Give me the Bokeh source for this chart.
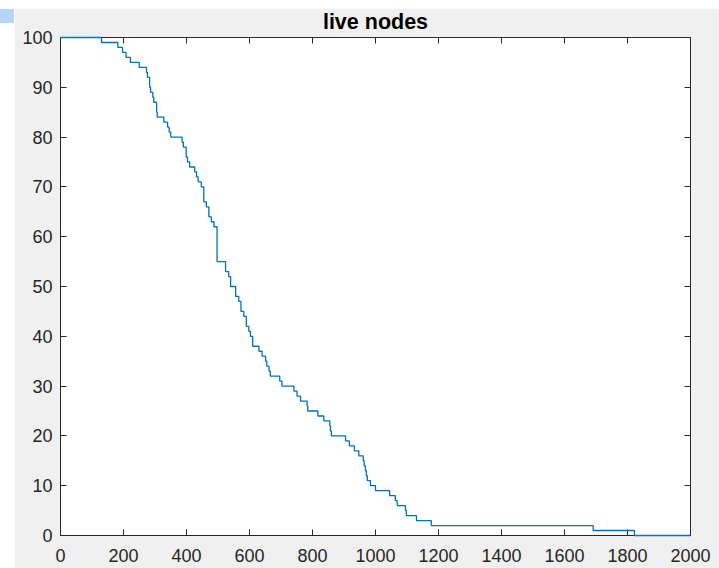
from bokeh.plotting import figure
from bokeh.models import Range1d, LinearAxis, FixedTicker, Spacer
from bokeh.layouts import row, column
from bokeh.embed import file_html
from bokeh.resources import INLINE

# step times and number of live nodes (level holds from each time to the next)
step_times = [0, 130, 182, 197, 208, 222, 250, 273, 276, 283, 286, 293, 296, 305, 307,
              328, 340, 345, 350, 386, 390, 399, 403, 410, 426, 432, 437, 447, 455, 463,
              471, 479, 487, 497, 524, 534, 540, 556, 566, 573, 582, 590, 598, 603, 610,
              630, 640, 651, 655, 662, 666, 696, 703, 741, 751, 762, 783, 785, 817, 836,
              855, 857, 860, 905, 917, 933, 947, 961, 964, 968, 971, 974, 984, 1000, 1045,
              1063, 1069, 1095, 1098, 1130, 1177, 1691, 1822, 2000]
live_nodes = [100, 99, 98, 97, 96, 95, 94, 93, 92, 90, 89, 88, 87, 85, 84,
              83, 82, 81, 80, 79, 78, 76, 75, 74, 73, 72, 71, 70, 67, 66,
              64, 63, 62, 55, 53, 52, 50, 48, 47, 45, 44, 42, 41, 40, 38,
              37, 36, 35, 34, 33, 32, 31, 30, 29, 28, 27, 26, 25, 24, 23,
              22, 21, 20, 19, 18, 17, 16, 15, 14, 13, 12, 11, 10, 9, 8,
              7, 6, 5, 4, 3, 2, 1, 0, 0]

x_ticks = [0, 200, 400, 600, 800, 1000, 1200, 1400, 1600, 1800, 2000]
y_ticks = [0, 10, 20, 30, 40, 50, 60, 70, 80, 90, 100]
title_text = "live nodes"

AX = "#262626"
FONT = "Liberation Sans"
TICK_FS = "18px"

p = figure(width=705, height=560, output_backend="svg", toolbar_location=None,
           x_range=Range1d(0, 2000), y_range=Range1d(0, 100),
           min_border_left=46, min_border_right=29, min_border_top=29, min_border_bottom=33,
           background_fill_color="white", border_fill_color="#f0f0f0",
           outline_line_color=AX, outline_line_width=1)

p.title.text = title_text
p.title.align = "center"
p.title.vertical_align = "top"
p.title.text_font = FONT
p.title.text_font_size = "21.5px"
p.title.text_font_style = "bold"
p.title.text_color = "#000000"
p.title.standoff = 3

p.grid.visible = False


def style_axis(ax, ticks, show_labels=True, standoff=9):
    ax.ticker = FixedTicker(ticks=ticks)
    ax.major_tick_in = 6
    ax.major_tick_out = 0
    ax.minor_tick_line_color = None
    ax.axis_line_color = AX
    ax.major_tick_line_color = AX
    ax.major_label_text_font = FONT
    if show_labels:
        ax.major_label_text_color = AX
        ax.major_label_text_font_size = TICK_FS
        ax.major_label_standoff = standoff
    else:
        # box-style ticks only: no labels on the top and right edges
        ax.major_label_overrides = {t: "" for t in ticks}
        ax.major_label_text_color = None
        ax.major_label_standoff = 0


style_axis(p.xaxis[0], x_ticks, True, 13)
style_axis(p.yaxis[0], y_ticks, True, 8)

top_ax = LinearAxis()
right_ax = LinearAxis()
style_axis(top_ax, x_ticks, False)
style_axis(right_ax, y_ticks, False)
p.add_layout(top_ax, "above")
p.add_layout(right_ax, "right")

p.step(step_times, live_nodes, mode="after", line_color="#0072BD", line_width=1.3,
       level="overlay")

left_col = column(Spacer(width=14, height=9),
                  Spacer(width=14, height=14, styles={"background-color": "#b7d5f8"}))
right_col = column(Spacer(width=705, height=8), p)
layout = row(left_col, right_col)

open("out.html", "w").write(file_html(layout, INLINE))
